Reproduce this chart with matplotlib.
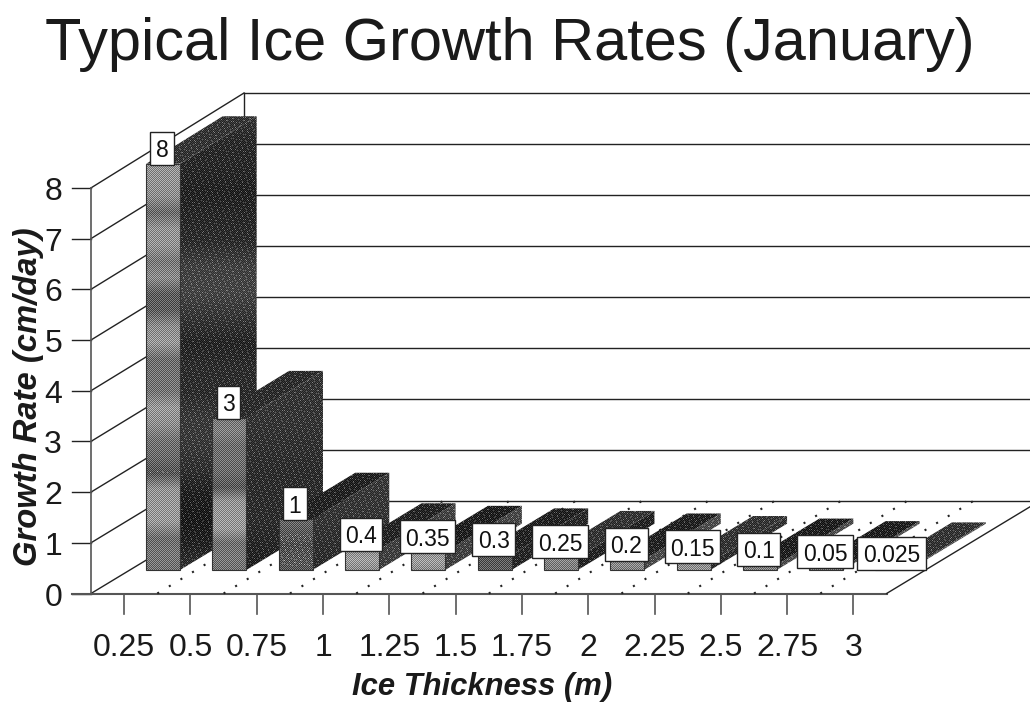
import numpy as np
import matplotlib
matplotlib.use('Agg')
import matplotlib.pyplot as plt
from matplotlib.patches import Polygon, Rectangle

plt.rcParams['font.family'] = ['Liberation Sans', 'DejaVu Sans']

# chart values
thickness_labels = ['0.25', '0.5', '0.75', '1', '1.25', '1.5', '1.75', '2', '2.25', '2.5', '2.75', '3']
growth_rates = [8, 3, 1, 0.4, 0.35, 0.3, 0.25, 0.2, 0.15, 0.1, 0.05, 0.025]
value_labels = ['8', '3', '1', '0.4', '0.35', '0.3', '0.25', '0.2', '0.15', '0.1', '0.05', '0.025']
y_ticks = [0, 1, 2, 3, 4, 5, 6, 7, 8]

# grey levels of the front and side faces, top to bottom of each bar
front_shades = [
    [.58, .58, .56, .42, .58, .58, .47, .55, .37, .37, .55, .6, .43, .45, .46, .6, .56, .45, .42, .34, .58, .6, .6, .43, .47, .45],
    [.47, .5, .43, .44, .42, .35, .58, .6, .6, .44, .47, .45],
    [.42, .36, .3, .33, .36],
    [.55, .62, .55], [.58, .62, .55], [.36, .36, .38], [.55, .5, .5], [.5, .55, .5],
    [.56, .58], [.55, .5], [.5, .5], [.3, .3],
]
side_shades = [
    [.2, .16, .15, .13, .15, .17, .25, .26, .2, .14, .17, .17, .22, .22, .18, .12, .1, .13, .2],
    [.2, .2, .17, .17, .12],
    [.22, .2, .16],
    [.26, .24], [.28, .24], [.16, .14], [.14, .14], [.3, .28],
    [.2, .16], [.3, .3], [.32, .3], [.3, .3],
]
top_shades = [.2, .17, .13, .14, .12, .13, .2, .13, .2, .12, .12, .2]

# projection of the 3d box onto the page, in pixels
FIG_W, FIG_H = 1030, 702
X0, Y0 = 91, 593.5
CAT_W = 66.3
UNIT_H = 50.7
UNIT_H_BACK = 51.0
DEPTH_X, DEPTH_Y = 153, -92.5
BAR_W = 34 / CAT_W
BAR_FRONT, BAR_BACK = 0.255, 0.755
INK = '#222222'


def project(cat, value=0.0, depth=0.0):
    # cat runs along the floor in categories, depth from front (0) to back (1)
    unit = UNIT_H + (UNIT_H_BACK - UNIT_H) * depth
    return (X0 + cat * CAT_W + depth * DEPTH_X,
            Y0 - value * unit + depth * DEPTH_Y)


def shaded_face(ax, points, shades, texture=0.1, zorder=3):
    # fills a polygon with a vertical band gradient and an ordered halftone
    xs = [p[0] for p in points]
    ys = [p[1] for p in points]
    left, right = int(np.floor(min(xs))), int(np.ceil(max(xs)))
    top, bottom = int(np.floor(min(ys))), int(np.ceil(max(ys)))
    col, row = np.meshgrid(np.arange(left, right), np.arange(top, bottom))
    levels = np.interp(row, np.linspace(top, bottom, len(shades)), shades)
    dither = np.where((col + row) % 2 == 0, texture, -texture)
    # scattered light specks on the dark faces
    speckle = ((col * col * 3 + row * row * 5 + col * row) % 17 == 0) * 0.25 * (levels < 0.35)
    img = np.clip(levels + dither + speckle, 0, 1)
    im = ax.imshow(img, cmap='gray', vmin=0, vmax=1, interpolation='nearest',
                   extent=(left, right, bottom, top), zorder=zorder, aspect='auto')
    patch = Polygon(points, closed=True, transform=ax.transData, facecolor='none',
                    edgecolor='none')
    ax.add_patch(patch)
    im.set_clip_path(patch)


fig = plt.figure(figsize=(FIG_W / 100, FIG_H / 100), dpi=100)
ax = fig.add_axes([0, 0, 1, 1])
n_cats = len(growth_rates)
top_value = y_ticks[-1]

# gridlines on the side and back walls, tick stubs on the left
for v in y_ticks:
    fx, fy = project(0, v)
    bx, by = project(0, v, 1)
    ax.plot([fx - 19, fx], [fy, fy], color=INK, lw=1)
    ax.plot([fx, bx], [fy, by], color=INK, lw=1)
    ax.plot([bx, FIG_W], [by, by], color=INK, lw=1)
    ax.text(fx - 29, fy + 4, str(v), fontsize=23, ha='right', va='center', color='#1a1a1a')

# wall edges and floor outline
ax.plot(*zip(project(0, 0), project(0, top_value)), color='#555555', lw=1.2)
ax.plot(*zip(project(0, 0, 1), project(0, top_value, 1)), color=INK, lw=1)
floor_end = project(n_cats)
ax.plot([X0 - 19, floor_end[0]], [Y0, Y0], color='#555555', lw=1.5)
ax.plot(*zip(floor_end, project(n_cats, 0, 1)), color=INK, lw=1)

# dotted floor lines between the categories, tick marks under the centres
for k in range(1, n_cats):
    ax.plot(*zip(project(k), project(k, 0, 1)), color='#222222', lw=1.5,
            linestyle=(0, (1, 5.5)), dash_capstyle='butt', zorder=2)
for k, lab in enumerate(thickness_labels):
    tx, ty = project(k + 0.5)
    ax.plot([tx, tx], [ty, ty + 20], color='#555555', lw=1.2)
    ax.text(tx, 648, lab, fontsize=23, ha='center', va='center', color='#1a1a1a')

# bars go left to right so each one hides the side of the previous one
for k, val in enumerate(growth_rates):
    left = k + 0.5 - BAR_W / 2
    right = k + 0.5 + BAR_W / 2
    side = [project(right, 0, BAR_FRONT), project(right, val, BAR_FRONT),
            project(right, val, BAR_BACK), project(right, 0, BAR_BACK)]
    top = [project(left, val, BAR_FRONT), project(right, val, BAR_FRONT),
           project(right, val, BAR_BACK), project(left, val, BAR_BACK)]
    front = [project(left, 0, BAR_FRONT), project(right, 0, BAR_FRONT),
             project(right, val, BAR_FRONT), project(left, val, BAR_FRONT)]
    z = 3 + k * 0.1
    shaded_face(ax, side, side_shades[k], texture=0.07, zorder=z)
    shaded_face(ax, top, [top_shades[k], top_shades[k]], texture=0.07, zorder=z)
    shaded_face(ax, front, front_shades[k], texture=0.14, zorder=z)
    ax.add_patch(Polygon(front, closed=True, facecolor='none', edgecolor='#333333',
                         lw=0.8, zorder=z))

# value boxes sit on top of the bars
renderer = fig.canvas.get_renderer()
ax.set_xlim(0, FIG_W)
ax.set_ylim(FIG_H, 0)
for k, (val, lab) in enumerate(zip(growth_rates, value_labels)):
    cx, by = project(k + 0.5, val, BAR_FRONT)
    box_h = 33
    cy = by + 1 - box_h / 2
    t = ax.text(cx - 1, cy, lab, fontsize=16.5, ha='center', va='center_baseline', color='#111111', zorder=6)
    w = t.get_window_extent(renderer).width + 11
    ax.add_patch(Rectangle((cx - 1 - w / 2, cy - box_h / 2), w, box_h, facecolor='white',
                           edgecolor='#222222', lw=1, zorder=5))

# titles
ax.text(509.5, 45, 'Typical Ice Growth Rates (January)', fontsize=42.8, ha='center', va='center', color='#1a1a1a')
ax.text(482, 687, 'Ice Thickness (m)', fontsize=22.3, fontweight='bold', fontstyle='italic',
        ha='center', va='center', color='#1a1a1a')
ax.text(29, 397, 'Growth Rate (cm/day)', fontsize=23.6, fontweight='bold', fontstyle='italic',
        rotation=90, ha='center', va='center', color='#1a1a1a')

ax.set_xlim(0, FIG_W)
ax.set_ylim(FIG_H, 0)
ax.axis('off')
fig.savefig('out.png', dpi=100)
